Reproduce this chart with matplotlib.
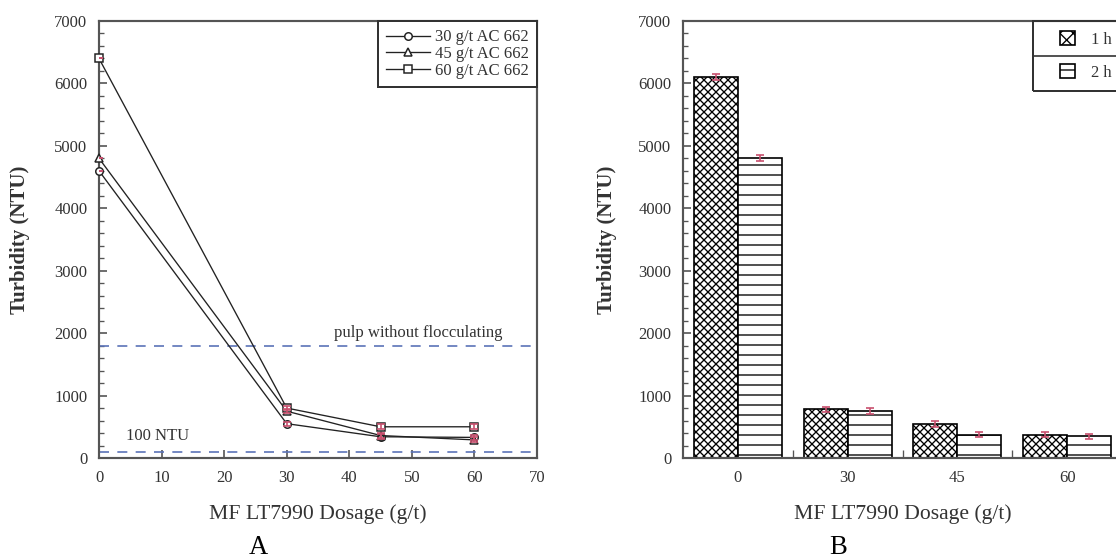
import numpy as np
import matplotlib.pyplot as plt
from matplotlib.patches import Patch, Rectangle
from matplotlib.ticker import MultipleLocator, FixedLocator

plt.rcParams['font.family'] = ['Liberation Serif', 'DejaVu Serif']
plt.rcParams['hatch.linewidth'] = 0.8
plt.rcParams['hatch.color'] = 'black'

# panel A: turbidity vs flocculant dosage for three coagulant doses
dosage = [0, 30, 45, 60]
ac30 = [4600, 550, 340, 330]
ac45 = [4800, 750, 360, 290]
ac60 = [6400, 800, 500, 500]
err_a = [0, 30, 40, 40]
labels_a = ["30 g/t AC 662", "45 g/t AC 662", "60 g/t AC 662"]
markers_a = ['o', '^', 's']
pulp_ref = 1800
limit_ntu = 100

# panel B: turbidity after 1 h and 2 h settling
groups = ["0", "30", "45", "60"]
t1h = [6100, 780, 540, 370]
t2h = [4800, 750, 370, 350]
err_1h = [50, 40, 50, 40]
err_2h = [50, 50, 40, 40]

ecol = '#c8506e'
tcol = '#333333'
spc = '#555555'

fig = plt.figure(figsize=(9.3, 560 / 120), dpi=120)
axA = fig.add_axes([99 / 1116, 102 / 560, 438 / 1116, 437 / 560])
axB = fig.add_axes([683 / 1116, 102 / 560, 439 / 1116, 437 / 560])


def style(ax):
    for s in ax.spines.values():
        s.set_color(spc)
        s.set_linewidth(1.3)
    ax.tick_params(which='both', direction='in', colors=spc, labelcolor=tcol,
                   labelsize=10, pad=7)
    ax.tick_params(which='major', length=5, width=1)
    ax.tick_params(which='minor', length=3, width=0.8)
    ax.set_ylim(0, 7000)
    ax.yaxis.set_major_locator(MultipleLocator(1000))
    ax.yaxis.set_minor_locator(MultipleLocator(200))
    ax.set_ylabel("Turbidity (NTU)", fontsize=12.5, fontweight='bold', color=tcol)
    ax.set_xlabel("MF LT7990 Dosage (g/t)", fontsize=13, color=tcol)


# ---- A ----
style(axA)
axA.set_xlim(0, 70)
axA.xaxis.set_major_locator(MultipleLocator(10))
axA.xaxis.set_minor_locator(FixedLocator([]))

for vals, lab, mk in zip([ac30, ac45, ac60], labels_a, markers_a):
    axA.plot(dosage, vals, color='#222222', lw=0.8, marker=mk, ms=4.5,
             mfc='white', mec='#222222', mew=0.9, label=lab, clip_on=False, zorder=3)
    axA.errorbar(dosage, vals, yerr=err_a, fmt='none', ecolor=ecol, elinewidth=1,
                 capsize=2.5, zorder=4)

axA.axhline(pulp_ref, color='#5b73b8', lw=1, dashes=(6, 5))
axA.axhline(limit_ntu, color='#5b73b8', lw=1, dashes=(6, 5))
axA.text(51, pulp_ref + 70, "pulp without flocculating", ha='center', va='bottom',
         fontsize=10, color=tcol)
axA.text(9.3, limit_ntu + 130, "100 NTU", ha='center', va='bottom', fontsize=10, color=tcol)

legA = axA.legend(loc='upper right', borderaxespad=0, fancybox=False, framealpha=1,
                  edgecolor='#333333', fontsize=10, handlelength=2.6, labelspacing=0.05,
                  handletextpad=0.3, borderpad=0.5)
legA.get_frame().set_linewidth(1.2)
for t in legA.get_texts():
    t.set_color(tcol)

axA.yaxis.set_label_coords(-0.158, 0.5)
axA.xaxis.set_label_coords(0.5, -0.105)

# ---- B ----
style(axB)
x = np.arange(len(groups))
w = 0.4
axB.bar(x - w / 2, t1h, width=w, facecolor='white', edgecolor='black', lw=1,
        hatch='xxxxx', zorder=2)
axB.bar(x + w / 2, t2h, width=w, facecolor='white', edgecolor='black', lw=1,
        hatch='--', zorder=2)
axB.errorbar(x - w / 2, t1h, yerr=err_1h, fmt='none', ecolor=ecol, elinewidth=1,
             capsize=2.5, zorder=3)
axB.errorbar(x + w / 2, t2h, yerr=err_2h, fmt='none', ecolor=ecol, elinewidth=1,
             capsize=2.5, zorder=3)
axB.set_xlim(-0.5, 3.5)
axB.set_xticks(x)
axB.set_xticklabels(groups)
axB.xaxis.set_minor_locator(FixedLocator(x[:-1] + 0.5))
axB.tick_params(axis='x', which='major', length=0)
axB.tick_params(axis='x', which='minor', length=5)

handles = [Patch(facecolor='white', edgecolor='black', hatch='xxx', lw=1),
           Patch(facecolor='white', edgecolor='black', hatch='-', lw=1)]
legB = axB.legend(handles, ["1 h", "2 h"], loc='upper right',
                  bbox_to_anchor=(1.0, 1.0), borderaxespad=0, frameon=False,
                  fontsize=10, handlelength=0.9, handleheight=0.9, labelspacing=1.0,
                  handletextpad=1.0, borderpad=0.6)
for t in legB.get_texts():
    t.set_color(tcol)

axB.yaxis.set_label_coords(-0.15, 0.5)
axB.xaxis.set_label_coords(0.5, -0.105)

# legend box drawn as a two-row table with a separator line
fig.canvas.draw()
bb = legB.get_window_extent().transformed(axB.transAxes.inverted())
x0 = (1033 - 683) / 439
box = Rectangle((x0, bb.y0), 1.05 - x0, 1 - bb.y0, transform=axB.transAxes,
                facecolor='none', edgecolor='#333333', lw=1.2, clip_on=False, zorder=10)
axB.add_patch(box)
ymid = (bb.y0 + 1) / 2
axB.plot([x0, 1.05], [ymid, ymid], transform=axB.transAxes, color='#333333',
         lw=1.0, clip_on=False, zorder=10)

fig.text(258 / 1116, 1 - 547 / 560, "A", ha='center', va='center', fontsize=16, color='black')
fig.text(838 / 1116, 1 - 547 / 560, "B", ha='center', va='center', fontsize=16, color='black')

fig.savefig("out.png", dpi=120, facecolor='white')
